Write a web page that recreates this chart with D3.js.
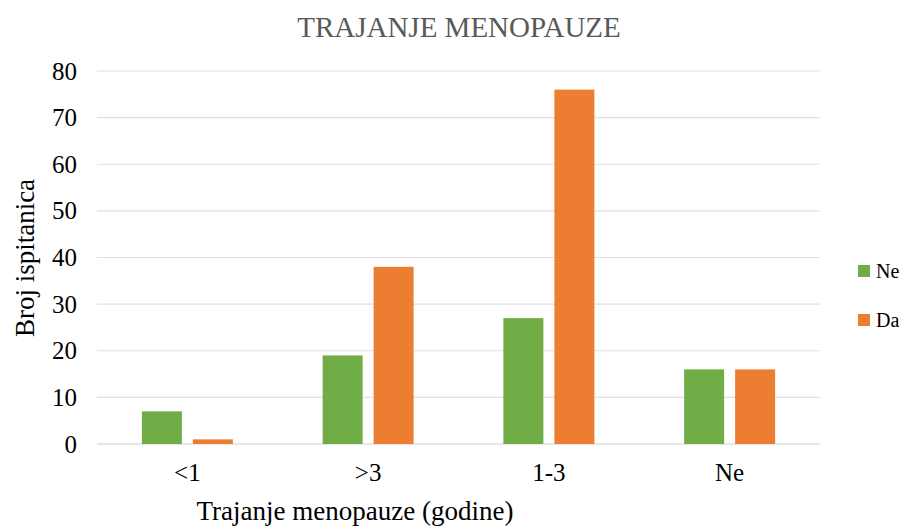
<!DOCTYPE html>
<html><head><meta charset="utf-8">
<script src="https://cdn.jsdelivr.net/npm/d3@7"></script>
<style>body{margin:0;background:#fff}svg{display:block}svg text{font-family:"Liberation Serif","Times New Roman",serif}</style>
</head><body><svg id="c" width="904" height="526"></svg>
<script>
const categories = ["<1", ">3", "1-3", "Ne"];
const seriesNames = ["Ne", "Da"];
const valuesNe = [7, 19, 27, 16];
const valuesDa = [1, 38, 76, 16];
const yTicks = [0,10,20,30,40,50,60,70,80];
const colors = ["#70AD47", "#ED7D31"];

const FONT = '"Liberation Serif","Times New Roman",serif';
const svg = d3.select("#c");
const m = {l:97, r:820, t:71, b:444};
const x = d3.scaleBand().domain(categories).range([m.l, m.r]);
const y = d3.scaleLinear().domain([0,80]).range([m.b, m.t]);
const xs = d3.scaleBand().domain(seriesNames).range([0, x.bandwidth()]).paddingInner(0.216).paddingOuter(0.88);

svg.append("g").selectAll("line").data(yTicks).join("line")
  .attr("x1", m.l).attr("x2", m.r).attr("y1", d=>y(d)).attr("y2", d=>y(d))
  .attr("stroke", d=> d===0 ? "#d0d0d0" : "#e0e0e0").attr("stroke-width", 1.2);

const yAxis = svg.append("g").attr("transform", `translate(${m.l},0)`)
  .call(d3.axisLeft(y).tickValues(yTicks).tickSize(0).tickPadding(20))
  .attr("font-family", FONT).attr("font-size", 25);
yAxis.select(".domain").remove();
yAxis.selectAll("text").attr("fill", "#000");

const xAxis = svg.append("g").attr("transform", `translate(0,${m.b})`)
  .call(d3.axisBottom(x).tickSize(0).tickPadding(19))
  .attr("font-family", FONT).attr("font-size", 25);
xAxis.select(".domain").remove();
xAxis.selectAll("text").attr("fill", "#000");

const data = [valuesNe, valuesDa];
data.forEach((vals, si) => {
  svg.append("g").selectAll("rect").data(vals).join("rect")
    .attr("x", (d,i)=> x(categories[i]) + xs(seriesNames[si]))
    .attr("width", xs.bandwidth())
    .attr("y", d=>y(d)).attr("height", d=> y(0)-y(d))
    .attr("fill", colors[si]);
});

svg.append("text").attr("x", 459).attr("y", 37).attr("text-anchor","middle")
  .attr("font-size", 29).attr("fill", "#595959").text("TRAJANJE MENOPAUZE");
svg.append("text").attr("transform","translate(34,258) rotate(-90)").attr("text-anchor","middle")
  .attr("font-size", 27).attr("fill","#000").text("Broj ispitanica");
svg.append("text").attr("x", 355).attr("y", 520).attr("text-anchor","middle")
  .attr("font-size", 27).attr("fill","#000").text("Trajanje menopauze (godine)");

const leg = svg.append("g");
seriesNames.forEach((n,i)=>{
  const yy = 265 + i*49;
  leg.append("rect").attr("x", 858).attr("y", yy).attr("width", 12).attr("height", 12).attr("fill", colors[i]);
  leg.append("text").attr("x", 876).attr("y", yy+13).attr("font-size", 20).attr("fill","#000").text(n);
});
</script></body></html>
